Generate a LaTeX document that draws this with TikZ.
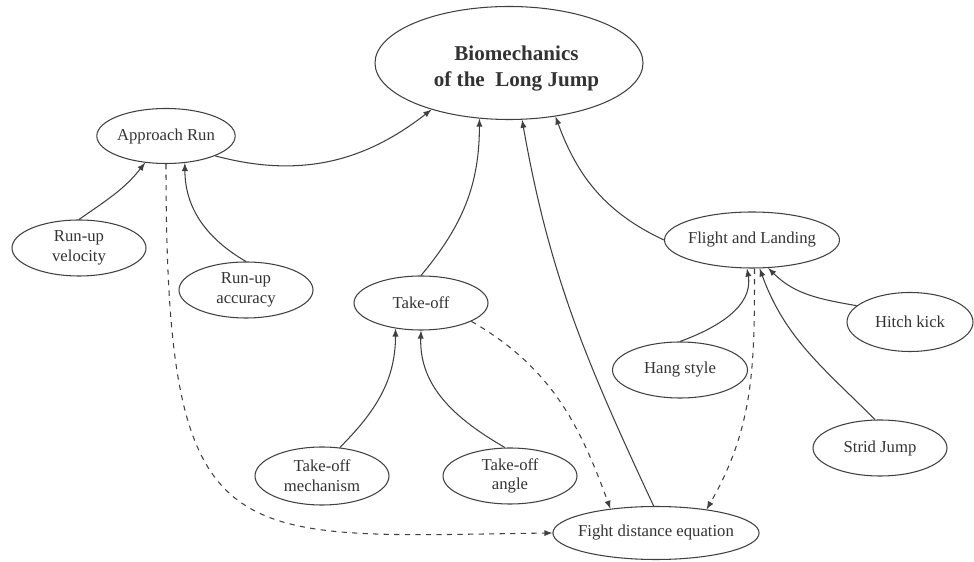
\documentclass[tikz,border=0pt]{standalone}
\usepackage{fontspec}
\setmainfont{Liberation Serif}
\usetikzlibrary{shapes.geometric, arrows}
\tikzstyle{topic} = [ellipse, draw=black!75, line width=0.6pt, inner sep=0pt, minimum width=2.68cm, minimum height=1.12cm, align=center, text=black!80, font=\fontsize{9.5}{11.2}\selectfont]
\tikzstyle{main} = [topic, minimum width=5.36cm, minimum height=2.26cm, font=\fontsize{12}{14.8}\selectfont\bfseries]
\tikzstyle{arrow} = [->,>=latex, draw=black!75, line width=0.6pt]
\tikzstyle{darrow} = [arrow, dashed]

\begin{document}
\begin{tikzpicture}
\useasboundingbox (0,0) rectangle (19.48,-11.24);
\node (bio) [main] at (10.18,-1.26) {\rule{0pt}{0.52cm}\hspace{0.3cm}Biomechanics\\\hspace{0.3cm}of the\ \ Long Jump};
\node (run) [topic, minimum width=2.64cm, minimum height=1.1cm] at (3.32,-2.72) {Approach Run};
\node (vel) [topic] at (1.58,-4.96) {Run-up\\velocity};
\node (acc) [topic] at (4.92,-5.8) {Run-up\\accuracy};
\node (tak) [topic, minimum height=1.08cm] at (8.42,-6.06) {Take-off};
\node (mech) [topic, minimum height=1.16cm] at (6.44,-9.52) {Take-off\\mechanism};
\node (ang) [topic] at (10.2,-9.52) {Take-off\\angle};
\node (fight) [topic, inner xsep=-1mm, minimum width=4.12cm, minimum height=1.06cm] at (13.12,-10.66) {Fight distance equation};
\node (fly) [topic, inner xsep=-0.5mm, minimum width=3.5cm] at (15.04,-4.8) {Flight and Landing};
\node (hang) [topic, minimum width=2.7cm] at (13.6,-7.4) {Hang style};
\node (hitch) [topic, minimum width=2.52cm, minimum height=1.18cm] at (18.2,-6.44) {Hitch kick};
\node (strid) [topic] at (17.6,-8.96) {Strid Jump};

\draw [arrow] (run.-22) to[out=-15, in=218] (bio.211);
\draw [arrow] (vel.north) to[out=35, in=232] (run.232);
\draw [arrow] (acc.north) to[out=150, in=-90] (run.305);
\draw [arrow] (tak.north) to[out=50, in=-90] (bio.242);
\draw [arrow] (mech.58) to[out=45, in=-90] (tak.225);
\draw [arrow] (ang.100) to[out=150, in=-92] (tak.270);
\draw [arrow] (fight.95) to[out=115, in=-80] (bio.-77);
\draw [arrow] (fly.west) to[out=155, in=-70] (bio.-49);
\draw [arrow] (hang.north) to[out=20, in=-80] (fly.260);
\draw [arrow] (strid.100) to[out=135, in=-70] (fly.-75);
\draw [arrow] (hitch.163) to[out=170, in=-45] (fly.-60);

\draw [darrow] (run.south) .. controls (3.32,-11.2) and (4.5,-10.74) .. (fight.west);
\draw [darrow] (tak.-20) to[out=-30, in=110] (fight.152);
\draw [darrow] (fly.-85) to[out=-90, in=60] (fight.25);
\end{tikzpicture}
\end{document}
